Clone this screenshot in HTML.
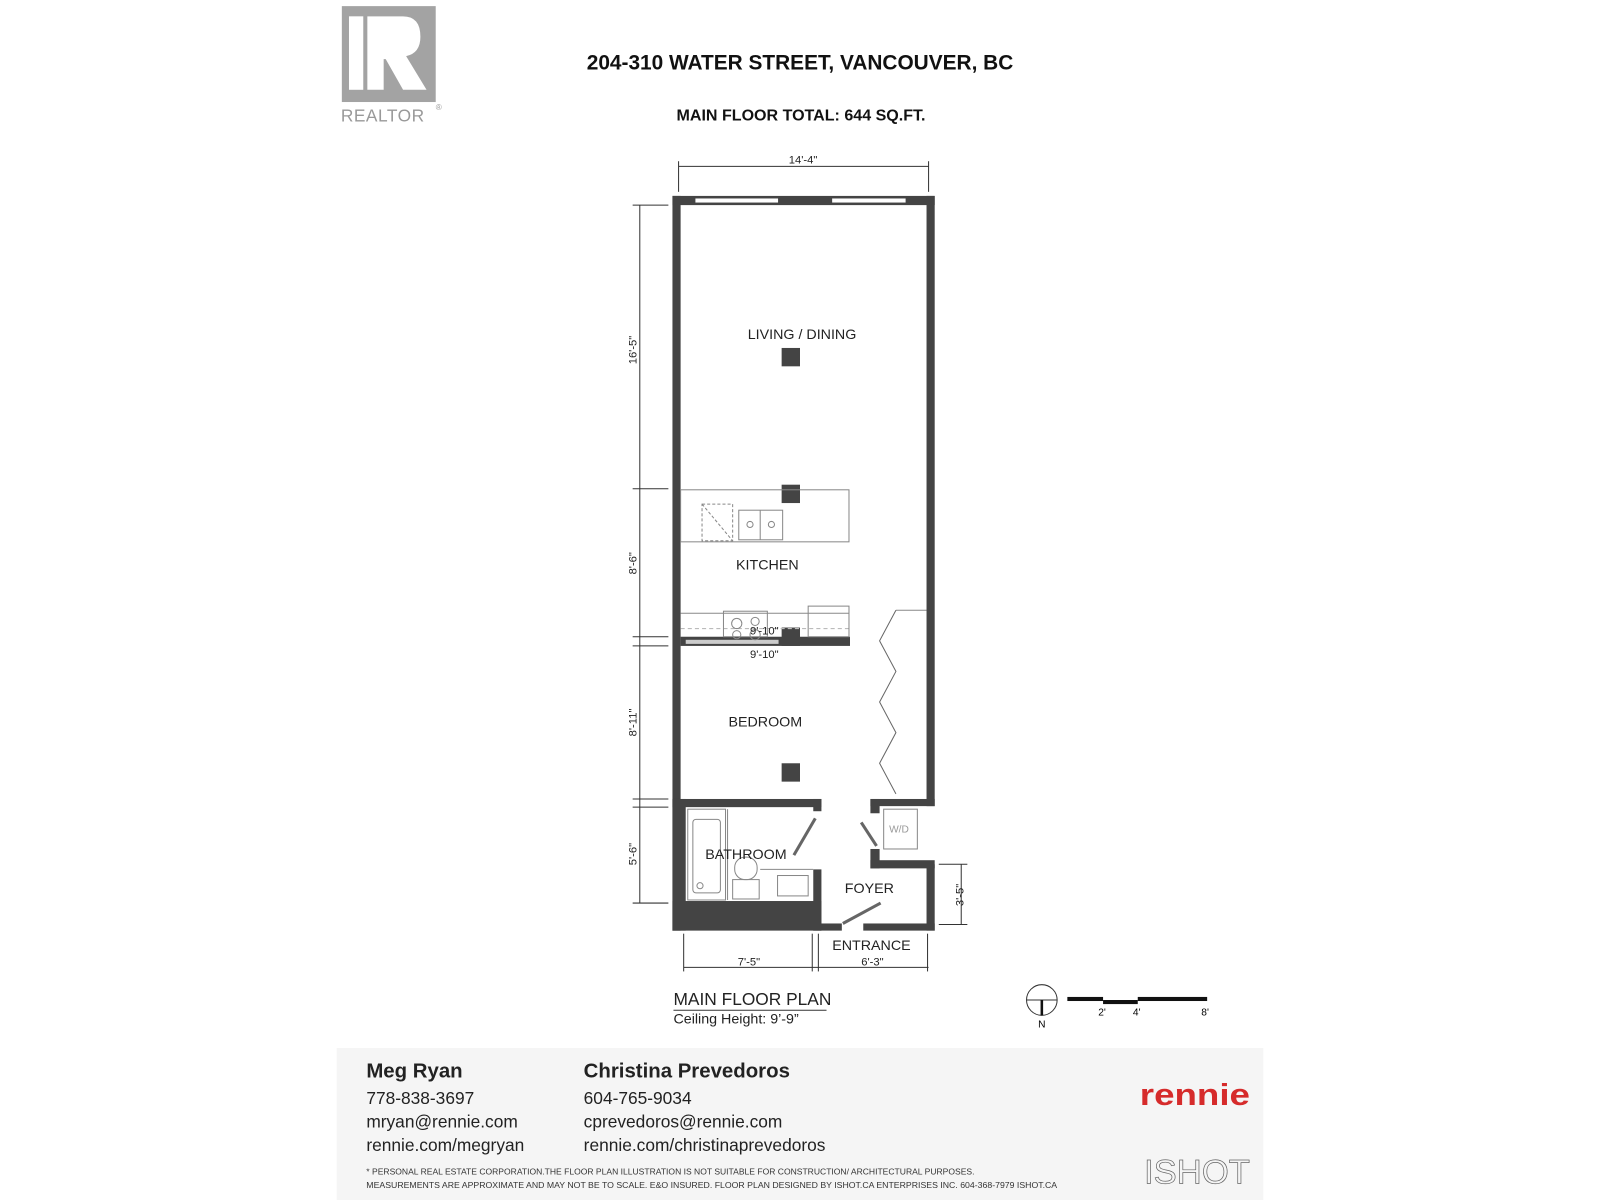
<!DOCTYPE html>
<html><head><meta charset="utf-8"><style>
html,body{margin:0;padding:0;background:#fff;width:1600px;height:1200px;overflow:hidden}
svg{display:block}
text{font-family:"Liberation Sans",sans-serif}
</style></head><body>
<svg width="1600" height="1200" viewBox="0 0 1568 1176" xmlns="http://www.w3.org/2000/svg">
<!-- Realtor logo -->
<rect x="335" y="6" width="92" height="94" fill="#a3a3a3"/>
<rect x="342" y="16" width="14" height="72" fill="#fff"/>
<path d="M360 16 H395 Q412 16 412 36 Q412 52 398 55 L418 88 H395 L378 58 H376 V88 H360 Z" fill="#fff"/>
<text x="334" y="119" font-size="17" fill="#999" letter-spacing="0.5">REALTOR</text>
<text x="427" y="108" font-size="8" fill="#999">®</text>
<!-- Titles -->
<text x="784" y="68" font-size="21" font-weight="bold" text-anchor="middle" fill="#111" textLength="418" lengthAdjust="spacingAndGlyphs">204-310 WATER STREET, VANCOUVER, BC</text>
<text x="785" y="118" font-size="15.5" font-weight="bold" text-anchor="middle" fill="#111" textLength="244" lengthAdjust="spacingAndGlyphs">MAIN FLOOR TOTAL:  644 SQ.FT.</text>
<!-- top dim -->
<g stroke="#333" stroke-width="1" fill="none">
<line x1="665" y1="163" x2="910" y2="163"/>
<line x1="665" y1="158" x2="665" y2="188"/><line x1="910" y1="158" x2="910" y2="188"/>
<line x1="627" y1="201" x2="627" y2="885"/>
<line x1="620" y1="201" x2="655" y2="201"/><line x1="620" y1="479" x2="655" y2="479"/>
<line x1="620" y1="624" x2="655" y2="624"/><line x1="620" y1="633" x2="655" y2="633"/>
<line x1="620" y1="783" x2="655" y2="783"/><line x1="620" y1="791" x2="655" y2="791"/><line x1="620" y1="885" x2="655" y2="885"/>
<line x1="670" y1="948" x2="910" y2="948"/>
<line x1="670" y1="915" x2="670" y2="952"/><line x1="796" y1="915" x2="796" y2="952"/><line x1="802" y1="915" x2="802" y2="952"/><line x1="909" y1="915" x2="909" y2="952"/>
<line x1="942" y1="847" x2="942" y2="906"/>
<line x1="920" y1="847" x2="948" y2="847"/><line x1="920" y1="906" x2="948" y2="906"/>
</g>
<text x="787" y="160" font-size="11" text-anchor="middle" fill="#222">14'-4"</text>
<text transform="translate(624,343) rotate(-90)" font-size="11" text-anchor="middle" fill="#222">16'-5"</text>
<text transform="translate(624,552) rotate(-90)" font-size="11" text-anchor="middle" fill="#222">8'-6"</text>
<text transform="translate(624,708) rotate(-90)" font-size="11" text-anchor="middle" fill="#222">8'-11"</text>
<text transform="translate(624,837) rotate(-90)" font-size="11" text-anchor="middle" fill="#222">5'-6"</text>
<text transform="translate(944,877) rotate(-90)" font-size="11" text-anchor="middle" fill="#222">3'-5"</text>
<text x="734" y="946" font-size="11" text-anchor="middle" fill="#222">7'-5"</text>
<text x="855" y="946" font-size="11" text-anchor="middle" fill="#222">6'-3"</text>
<!-- walls -->
<g fill="#444">
<rect x="659" y="192" width="257" height="9"/>
<rect x="659" y="192" width="8" height="720"/>
<rect x="908" y="192" width="8" height="598"/>
<rect x="908" y="847" width="8" height="65"/>
<rect x="659" y="783" width="146" height="8"/>
<rect x="659" y="783" width="13" height="129"/>
<rect x="659" y="883" width="146" height="29"/>
<rect x="797" y="783" width="8" height="12"/>
<rect x="797" y="852" width="8" height="60"/>
<rect x="797" y="905" width="28" height="7"/>
<rect x="846" y="905" width="70" height="7"/>
<rect x="853" y="783" width="63" height="7"/>
<rect x="853" y="783" width="9" height="14"/>
<rect x="853" y="832" width="9" height="19"/>
<rect x="853" y="843" width="63" height="8"/>
<rect x="667" y="624" width="166" height="9"/>
<rect x="766" y="341" width="18" height="18"/>
<rect x="766" y="475" width="18" height="18"/>
<rect x="766" y="615" width="18" height="18"/>
<rect x="766" y="748" width="18" height="18"/>
</g>
<g fill="#fff" stroke="#444" stroke-width="1">
<rect x="681" y="194" width="82" height="5"/>
<rect x="815" y="194" width="73" height="5"/>
</g>
<rect x="672" y="627" width="91" height="4" fill="#ccc"/>
<g fill="none" stroke="#888" stroke-width="1">
<rect x="667" y="480" width="165" height="51"/>
<rect x="688" y="494" width="30" height="36" stroke-dasharray="3,2"/>
<line x1="688" y1="494" x2="718" y2="530" stroke-dasharray="3,2"/>
<rect x="724" y="500" width="43" height="29"/>
<line x1="745" y1="500" x2="745" y2="529"/>
<circle cx="735" cy="514" r="3"/><circle cx="756" cy="514" r="3"/>
<line x1="667" y1="601" x2="832" y2="601"/>
<line x1="667" y1="616" x2="832" y2="616" stroke-dasharray="4,3" stroke="#bbb"/>
<rect x="709" y="599" width="43" height="25"/>
<circle cx="722" cy="611" r="5"/><circle cx="740" cy="609" r="4"/><circle cx="722" cy="622" r="4"/><circle cx="740" cy="622" r="5"/>
<rect x="792" y="594" width="40" height="30"/>
<line x1="878" y1="598" x2="908" y2="598"/>
<polyline points="878,598 862,628 878,658 862,688 878,718 862,748 878,778" stroke="#666"/>
<rect x="674" y="793" width="37" height="89"/>
<rect x="679" y="803" width="27" height="72" rx="3"/>
<circle cx="686" cy="868" r="3"/>
<line x1="713" y1="793" x2="713" y2="882"/>
<rect x="720" y="840" width="22" height="22" rx="10"/>
<rect x="718" y="862" width="26" height="19"/>
<line x1="745" y1="852" x2="797" y2="852"/>
<rect x="762" y="858" width="30" height="20"/>
<line x1="778" y1="838" x2="799" y2="802" stroke="#666" stroke-width="3"/>
<line x1="844" y1="806" x2="859" y2="829" stroke="#666" stroke-width="3"/>
<rect x="866" y="793" width="33" height="39"/>
<line x1="826" y1="905" x2="863" y2="885" stroke="#666" stroke-width="3"/>
</g>
<text x="881" y="816" font-size="10" text-anchor="middle" fill="#999">W/D</text>
<g font-size="14" fill="#222" text-anchor="middle">
<text x="786" y="332">LIVING / DINING</text>
<text x="752" y="558">KITCHEN</text>
<text x="750" y="712">BEDROOM</text>
<text x="731" y="842">BATHROOM</text>
<text x="852" y="875">FOYER</text>
<text x="854" y="931">ENTRANCE</text>
</g>
<text x="749" y="622" font-size="11" text-anchor="middle" fill="#222">9'-10"</text>
<text x="749" y="645" font-size="11" text-anchor="middle" fill="#222">9'-10"</text>
<text x="660" y="985" font-size="17" fill="#222">MAIN FLOOR PLAN</text>
<line x1="660" y1="990" x2="810" y2="990" stroke="#333"/>
<text x="660" y="1003" font-size="14" fill="#222">Ceiling Height: 9’-9”</text>
<circle cx="1021" cy="980" r="15" fill="none" stroke="#333"/>
<line x1="1006" y1="980" x2="1036" y2="980" stroke="#333"/>
<line x1="1021" y1="980" x2="1021" y2="995" stroke="#111" stroke-width="2.5"/>
<text x="1021" y="1007" font-size="10" text-anchor="middle">N</text>
<rect x="1046" y="977" width="35" height="4" fill="#111"/>
<rect x="1081" y="980" width="34" height="4" fill="#111"/>
<rect x="1115" y="977" width="68" height="4" fill="#111"/>
<text x="1080" y="995" font-size="10" text-anchor="middle">2'</text>
<text x="1114" y="995" font-size="10" text-anchor="middle">4'</text>
<text x="1181" y="995" font-size="10" text-anchor="middle">8'</text>
<rect x="330" y="1027" width="908" height="149" fill="#f5f5f5"/>
<g fill="#222" font-size="17">
<text x="359" y="1056" font-size="20" font-weight="bold">Meg Ryan</text>
<text x="359" y="1082">778-838-3697</text>
<text x="359" y="1105">mryan@rennie.com</text>
<text x="359" y="1128">rennie.com/megryan</text>
<text x="572" y="1056" font-size="20" font-weight="bold">Christina Prevedoros</text>
<text x="572" y="1082">604-765-9034</text>
<text x="572" y="1105">cprevedoros@rennie.com</text>
<text x="572" y="1128">rennie.com/christinaprevedoros</text>
</g>
<text x="359" y="1151" font-size="8" fill="#333" textLength="596" lengthAdjust="spacingAndGlyphs">* PERSONAL REAL ESTATE CORPORATION.THE FLOOR PLAN ILLUSTRATION IS NOT SUITABLE FOR CONSTRUCTION/ ARCHITECTURAL PURPOSES.</text>
<text x="359" y="1164" font-size="8" fill="#333" textLength="677" lengthAdjust="spacingAndGlyphs">MEASUREMENTS ARE APPROXIMATE AND MAY NOT BE TO SCALE. E&amp;O INSURED. FLOOR PLAN DESIGNED BY ISHOT.CA ENTERPRISES INC. 604-368-7979  ISHOT.CA</text>
<text x="1225" y="1083" font-size="30" font-weight="bold" fill="#d62b2b" text-anchor="end" textLength="108" lengthAdjust="spacingAndGlyphs">rennie</text>
<text x="1225" y="1160" font-size="34" fill="#f5f5f5" stroke="#666" stroke-width="0.7" text-anchor="end" font-family="Liberation Serif">ISHOT</text>
</svg>
</body></html>
